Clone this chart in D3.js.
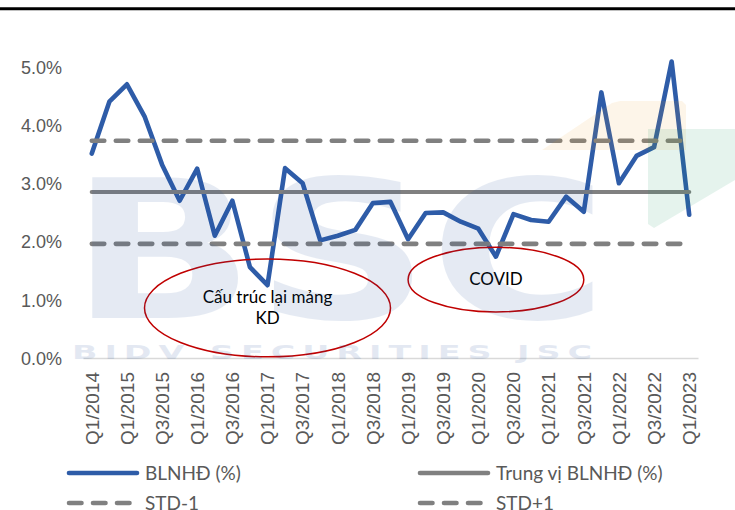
<!DOCTYPE html>
<html>
<head>
<meta charset="utf-8">
<script src="https://cdn.jsdelivr.net/npm/d3@7/dist/d3.min.js"></script>
<style>
  html, body { margin: 0; padding: 0; background: #fff; }
  svg { display: block; }
</style>
</head>
<body>
<svg id="chart" width="735" height="510"></svg>
<script>
// ---- data ----
const categories = [
  "Q1/2014","Q4/2014","Q1/2015","Q2/2015","Q3/2015","Q4/2015",
  "Q1/2016","Q2/2016","Q3/2016","Q4/2016","Q1/2017","Q2/2017",
  "Q3/2017","Q4/2017","Q1/2018","Q2/2018","Q3/2018","Q4/2018",
  "Q1/2019","Q2/2019","Q3/2019","Q4/2019","Q1/2020","Q2/2020",
  "Q3/2020","Q4/2020","Q1/2021","Q2/2021","Q3/2021","Q4/2021",
  "Q1/2022","Q2/2022","Q3/2022","Q4/2022","Q1/2023"
];
const blnhd = [
  3.51, 4.40, 4.70, 4.15, 3.32, 2.70,
  3.25, 2.10, 2.70, 1.56, 1.25, 3.26,
  3.00, 2.02, 2.10, 2.20, 2.66, 2.68,
  2.04, 2.49, 2.50, 2.34, 2.22, 1.74,
  2.47, 2.37, 2.34, 2.77, 2.51, 4.56,
  3.00, 3.47, 3.62, 5.09, 2.46
];
const medianValue = [2.85];
const stdMinus1 = [1.96];
const stdPlus1 = [3.73];
const yTicks = [0, 1, 2, 3, 4, 5];
const legendLabels = ["BLNHĐ (%)", "Trung vị BLNHĐ (%)", "STD-1", "STD+1"];
const annotationTexts = [["Cấu trúc lại mảng", "KD"], ["COVID"]];
const annotationFrom = ["Q2/2015", "Q1/2019"];
const annotationTo = ["Q4/2018", "Q3/2021"];
const annotationLo = [0.02, 0.79];
const annotationHi = [1.70, 1.90];

// ---- layout ----
const svg = d3.select("#chart");
const x = d3.scaleBand().domain(categories).range([83, 698]);
const cx = c => x(c) + x.bandwidth() / 2;
const y = d3.scaleLinear().domain([0, 5]).range([358, 66.8]);

const BLUE = "#2E5CA8", GRAY = "#808080", TXT = "#595959";

// top rule
svg.append("line").attr("x1", 0).attr("x2", 735).attr("y1", 8.7).attr("y2", 8.7)
  .attr("stroke", "#000").attr("stroke-width", 3);

// y axis labels
const yAxis = d3.axisLeft(y).tickValues(yTicks).tickFormat(d => d.toFixed(1) + "%").tickSize(0).tickPadding(0);
const gy = svg.append("g").attr("transform", "translate(62,0)").call(yAxis);
gy.select(".domain").remove();
gy.selectAll("text").attr("fill", TXT).style("font-family", "'Liberation Sans', Arial, sans-serif")
  .style("font-size", "18px").attr("dy", "0.35em");

// x axis
const xAxis = d3.axisBottom(x).tickValues(categories.filter((c, i) => i % 2 === 0)).tickSize(0).tickPadding(0);
const gx = svg.append("g").attr("transform", "translate(0,358)").call(xAxis);
gx.select(".domain").attr("stroke", "#D9D9D9").attr("stroke-width", 1.5);
gx.selectAll("text")
  .attr("fill", TXT).style("font-family", "'Liberation Sans', Arial, sans-serif").style("font-size", "19px")
  .attr("text-anchor", "end").attr("transform", "translate(0,14) rotate(-90)")
  .attr("x", 0).attr("y", 0).attr("dy", "0.36em");

// series lines
const lineGen = d3.line().x((d, i) => cx(categories[i])).y(d => y(d));
svg.append("path").datum(blnhd).attr("d", lineGen)
  .attr("fill", "none").attr("stroke", BLUE).attr("stroke-width", 4.6)
  .attr("stroke-linejoin", "round").attr("stroke-linecap", "round");

function hline(v, dashed) {
  const p = svg.append("path").datum(categories.map(() => v)).attr("d", lineGen)
    .attr("fill", "none").attr("stroke", GRAY).attr("stroke-width", dashed ? 4.6 : 4.2)
    .attr("stroke-linecap", "round");
  if (dashed) p.attr("stroke-dasharray", "12.5,11.5");
}
hline(medianValue[0], false);
hline(stdMinus1[0], true);
hline(stdPlus1[0], true);

// annotation ellipses
annotationTexts.forEach((lines, k) => {
  const x0 = cx(annotationFrom[k]), x1 = cx(annotationTo[k]);
  const yA = y(annotationHi[k]), yB = y(annotationLo[k]);
  const ex = (x0 + x1) / 2, ey = (yA + yB) / 2;
  svg.append("ellipse").attr("cx", ex).attr("cy", ey)
    .attr("rx", (x1 - x0) / 2).attr("ry", (yB - yA) / 2)
    .attr("fill", "none").attr("stroke", "#C00000").attr("stroke-width", 1.5);
  const t = svg.append("text").attr("x", ex).attr("text-anchor", "middle")
    .style("font-family", "Lato, 'Open Sans', sans-serif").style("font-size", "17px").attr("fill", "#000");
  const n = lines.length;
  lines.forEach((l, i) => {
    t.append("tspan").attr("x", ex).attr("y", ey + (i - (n - 1) / 2) * 21 + 5.5).text(l);
  });
});

// watermark overlay
const wm = svg.append("g").attr("pointer-events", "none");
wm.append("text").text("BSC").attr("x", 70).attr("y", 318)
  .attr("textLength", 538).attr("lengthAdjust", "spacingAndGlyphs")
  .style("font-family", "'DejaVu Sans', 'Liberation Sans', sans-serif").style("font-weight", "bold")
  .style("font-size", "192px").attr("fill", "#1F4E9A").attr("opacity", 0.11);
wm.append("text").text("BIDV SECURITIES JSC").attr("x", 72).attr("y", 359)
  .attr("textLength", 527).attr("lengthAdjust", "spacingAndGlyphs")
  .style("font-family", "'DejaVu Sans', 'Liberation Sans', sans-serif").style("font-weight", "bold")
  .style("letter-spacing", "4px")
  .style("font-size", "19px").attr("fill", "#1F4E9A").attr("opacity", 0.12);
wm.append("polygon").attr("points", "542,150 612,103 620,101 682,101 686,105 686,150")
  .attr("fill", "#F0A028").attr("opacity", 0.1);
wm.append("polygon").attr("points", "648,129 735,129 735,180 654,228 648,224")
  .attr("fill", "#14965A").attr("opacity", 0.11);

// legend
const legend = svg.append("g").style("font-family", "Lato, 'Open Sans', sans-serif").style("font-size", "19px");
const legendItems = [
  { label: legendLabels[0], x: 67, y: 473, color: BLUE, dash: null },
  { label: legendLabels[1], x: 418, y: 473, color: GRAY, dash: null },
  { label: legendLabels[2], x: 67, y: 503, color: GRAY, dash: "12.5,11.5" },
  { label: legendLabels[3], x: 418, y: 503, color: GRAY, dash: "12.5,11.5" }
];
legendItems.forEach(it => {
  const l = legend.append("line").attr("x1", it.x + 2).attr("x2", it.x + 70).attr("y1", it.y).attr("y2", it.y)
    .attr("stroke", it.color).attr("stroke-width", 4.6).attr("stroke-linecap", "round");
  if (it.dash) l.attr("stroke-dasharray", it.dash);
  legend.append("text").attr("x", it.x + 78).attr("y", it.y).attr("dy", "0.35em").attr("fill", TXT).text(it.label);
});
</script>
</body>
</html>
